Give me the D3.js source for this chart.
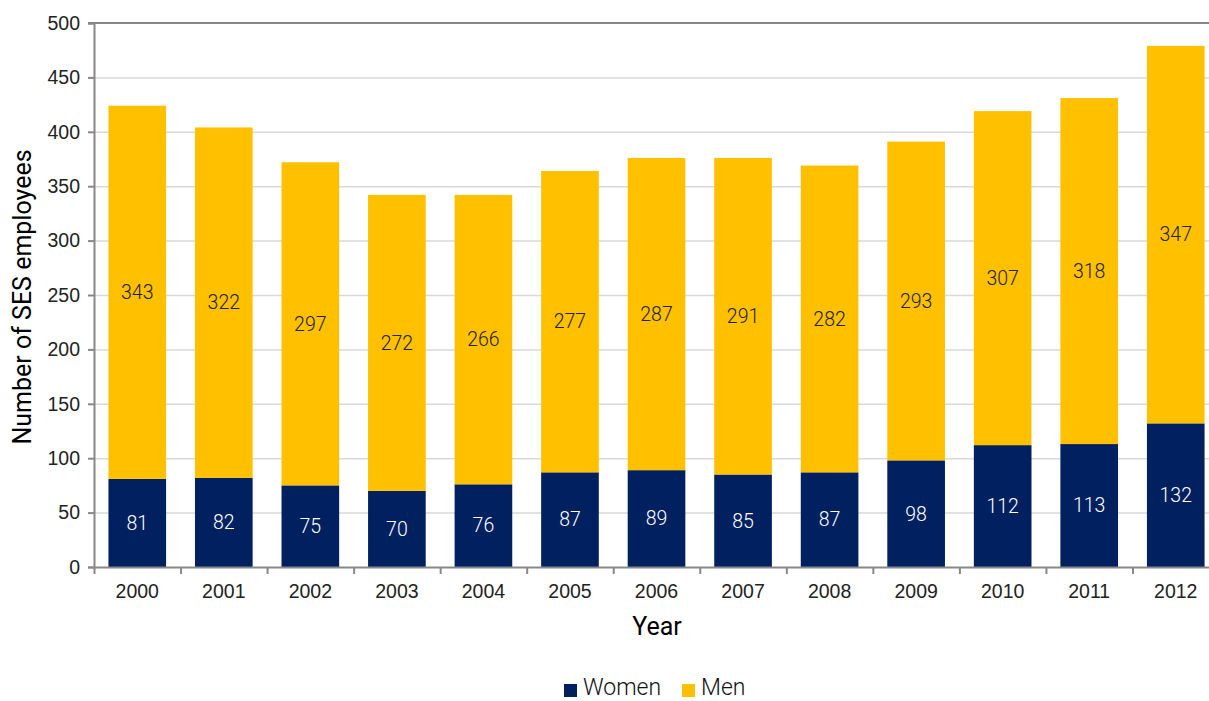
<!DOCTYPE html>
<html lang="en">
<head>
<meta charset="utf-8">
<title>SES employees by sex</title>
<script src="https://d3js.org/d3.v7.min.js"></script>
<style>
  body { margin: 0; background: #fff; font-family: "Roboto", "Liberation Sans", sans-serif; }
  .grid line { stroke: #d9d9d9; stroke-width: 1.5; }
  .grid path { display: none; }
  .axis path, .axis line { stroke: #888; stroke-width: 2; }
  .axis text { fill: #222; font-size: 19.5px; font-weight: 300; }
</style>
</head>
<body>
<div id="chart"></div>
<script>
// values
var years = ["2000","2001","2002","2003","2004","2005","2006","2007","2008","2009","2010","2011","2012"];
var women = [81, 82, 75, 70, 76, 87, 89, 85, 87, 98, 112, 113, 132];
var men   = [343, 322, 297, 272, 266, 277, 287, 291, 282, 293, 307, 318, 347];
var yTicks = [0, 50, 100, 150, 200, 250, 300, 350, 400, 450, 500];
var seriesNames = ["Women", "Men"];
var colors = ["#002060", "#FFC000"];

var W = 1209, H = 701;
var margin = { top: 23, left: 94 };
var plotH = 544;
var step = 86.54;

var svg = d3.select("#chart").append("svg")
    .attr("width", W)
    .attr("height", H);

var g = svg.append("g")
    .attr("transform", "translate(" + margin.left + "," + margin.top + ")");

var x = d3.scaleBand()
    .domain(years)
    .range([0, step * years.length])
    .paddingInner(0.334)
    .paddingOuter(0.167);

var y = d3.scaleLinear()
    .domain([0, 500])
    .range([plotH, 0]);

// gridlines
g.append("g")
    .attr("class", "grid")
    .call(d3.axisLeft(y).tickValues(yTicks.slice(1, -1)).tickSize(-(W)).tickFormat(""));

// top border (500 line)
g.append("line")
    .attr("x1", -6).attr("x2", W)
    .attr("y1", y(500)).attr("y2", y(500))
    .attr("stroke", "#888").attr("stroke-width", 2);

var rows = years.map(function(yr, i) {
  return { year: yr, Women: women[i], Men: men[i] };
});
var stacked = d3.stack().keys(seriesNames)(rows);

var layers = g.selectAll(".layer")
  .data(stacked)
  .enter().append("g")
    .attr("class", "layer")
    .attr("fill", function(d, i) { return colors[i]; });

layers.selectAll("rect")
  .data(function(d) { return d; })
  .enter().append("rect")
    .attr("x", function(d) { return x(d.data.year); })
    .attr("width", x.bandwidth())
    .attr("y", function(d) { return y(d[1]); })
    .attr("height", function(d) { return y(d[0]) - y(d[1]); });

layers.selectAll("text")
  .data(function(d) { return d.map(function(p) { p.key = d.key; return p; }); })
  .enter().append("text")
    .attr("x", function(d) { return x(d.data.year) + x.bandwidth() / 2; })
    .attr("y", function(d) { return y((d[0] + d[1]) / 2); })
    .attr("dy", "0.35em")
    .attr("text-anchor", "middle")
    .attr("font-size", 19.5)
    .attr("font-weight", 300)
    .attr("fill", function(d) { return d.key === "Women" ? "#fff" : "#222"; })
    .text(function(d) { return d.data[d.key]; });

// axes
g.append("g")
    .attr("class", "axis")
    .call(d3.axisLeft(y).tickValues(yTicks).tickSizeOuter(0).tickSize(6).tickPadding(8));

var xTickAxis = d3.axisBottom(d3.scaleLinear().domain([0, years.length]).range([0, step * years.length]))
    .tickValues(d3.range(years.length + 1)).tickSize(7).tickSizeOuter(0).tickFormat("");
g.append("g")
    .attr("class", "axis")
    .attr("transform", "translate(0," + plotH + ")")
    .call(xTickAxis);

g.append("g")
    .attr("class", "axis")
    .attr("transform", "translate(0," + plotH + ")")
    .call(d3.axisBottom(x).tickSize(0).tickPadding(17))
    .call(function(s) { s.select(".domain").remove(); });

// axis titles
svg.append("text")
    .attr("transform", "translate(31," + (margin.top + plotH / 2 + 2) + ") rotate(-90)")
    .attr("text-anchor", "middle")
    .attr("font-size", 25)
    .attr("fill", "#000")
    .text("Number of SES employees");

svg.append("text")
    .attr("x", 657)
    .attr("y", 635)
    .attr("text-anchor", "middle")
    .attr("font-size", 25)
    .attr("fill", "#000")
    .text("Year");

// legend
var legend = svg.append("g").attr("transform", "translate(564,684)");
var legX = [0, 118];
seriesNames.forEach(function(name, i) {
  var it = legend.append("g").attr("transform", "translate(" + legX[i] + ",0)");
  it.append("rect").attr("width", 13).attr("height", 13).attr("fill", colors[i]);
  it.append("text")
    .attr("x", 19).attr("y", 11)
    .attr("font-size", 23).attr("font-weight", 300).attr("fill", "#111")
    .text(name);
});
</script>
</body>
</html>
